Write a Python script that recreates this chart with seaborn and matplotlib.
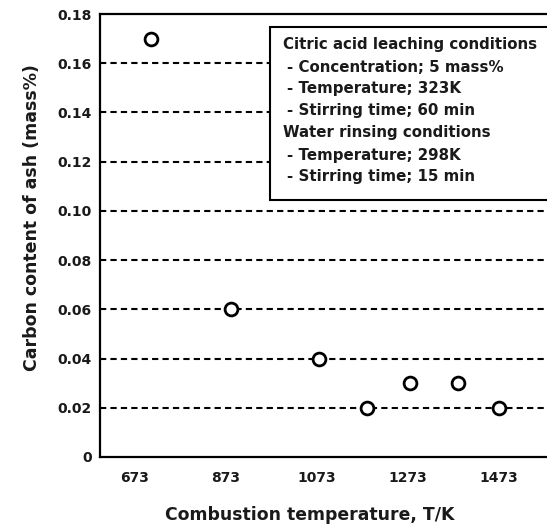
import matplotlib
matplotlib.use("Agg")
import matplotlib.pyplot as plt
from matplotlib.patches import Rectangle
import seaborn as sns
import pandas as pd

# Measured carbon content of ash after leaching
temperature_K = [708, 883, 1078, 1183, 1278, 1383, 1473]
carbon_mass_pct = [0.17, 0.06, 0.04, 0.02, 0.03, 0.03, 0.02]

x_ticks = [673, 873, 1073, 1273, 1473]
y_ticks = [0, 0.02, 0.04, 0.06, 0.08, 0.10, 0.12, 0.14, 0.16, 0.18]
y_tick_labels = ["0", "0.02", "0.04", "0.06", "0.08", "0.10", "0.12", "0.14", "0.16", "0.18"]

conditions = [
    ("Citric acid leaching conditions", 0),
    ("- Concentration; 5 mass%", 1),
    ("- Temperature; 323K", 1),
    ("- Stirring time; 60 min", 1),
    ("Water rinsing conditions", 0),
    ("- Temperature; 298K", 1),
    ("- Stirring time; 15 min", 1),
]

df = pd.DataFrame({"T": temperature_K, "C": carbon_mass_pct})

sns.set_theme(style="white")
plt.rcParams["font.family"] = ["DejaVu Sans"]
plt.rcParams["font.weight"] = "bold"
ink = "#1a1a1a"

W, H = 547, 524
fig = plt.figure(figsize=(W / 100, H / 100), dpi=100)
ax_left, ax_bottom, ax_top = 100, 457, 14
ax = fig.add_axes([ax_left / W, (H - ax_bottom) / H, (W - ax_left) / W, (ax_bottom - ax_top) / H])

ax.set_xlim(596, 1578)
ax.set_ylim(0, 0.18)

for yv in y_ticks[1:-1]:
    ax.axhline(yv, color="black", linestyle=(0, (3.0, 2.0)), linewidth=1.5, zorder=1)

sns.scatterplot(data=df, x="T", y="C", ax=ax, s=85, facecolor="white",
                edgecolor="black", linewidth=2.0, zorder=3, legend=False)

ax.set_xticks(x_ticks)
ax.set_xticklabels([str(v) for v in x_ticks], fontsize=10, fontweight="bold")
ax.set_yticks(y_ticks)
ax.set_yticklabels(y_tick_labels, fontsize=10, fontweight="bold")
ax.tick_params(axis="x", direction="in", length=5, width=1.2, color="black", pad=10)
ax.tick_params(axis="y", direction="out", length=3, width=1.2, color="black", pad=3)
ax.tick_params(labelcolor=ink)

for side in ["left", "bottom", "top"]:
    ax.spines[side].set_color("black")
    ax.spines[side].set_linewidth(1.6)
ax.spines["right"].set_visible(False)

ax.set_xlabel("Combustion temperature, T/K", fontsize=12.4, fontweight="bold", color=ink)
ax.set_ylabel("Carbon content of ash (mass%)", fontsize=12.5, fontweight="bold", color=ink)
ax.xaxis.set_label_coords(0.47, -0.131)
ax.yaxis.set_label_coords(-0.152, 0.54)
ax.xaxis.label.set_va("center")
ax.yaxis.label.set_va("center")

# Experimental conditions box
bx0, by0, bx1, by1 = 270, 27, 560, 200
box = Rectangle((bx0 / W, 1 - by1 / H), (bx1 - bx0) / W, (by1 - by0) / H,
                transform=fig.transFigure, facecolor="white", edgecolor="black",
                linewidth=1.5, zorder=5, clip_on=False)
fig.patches.append(box)
line_y = 45
for text, indent in conditions:
    fig.text((283 + 4 * indent) / W, 1 - line_y / H, text, fontsize=10.8, fontweight="bold",
             va="center", ha="left", color=ink, zorder=6)
    line_y += 22

fig.savefig("out.png", dpi=100)
